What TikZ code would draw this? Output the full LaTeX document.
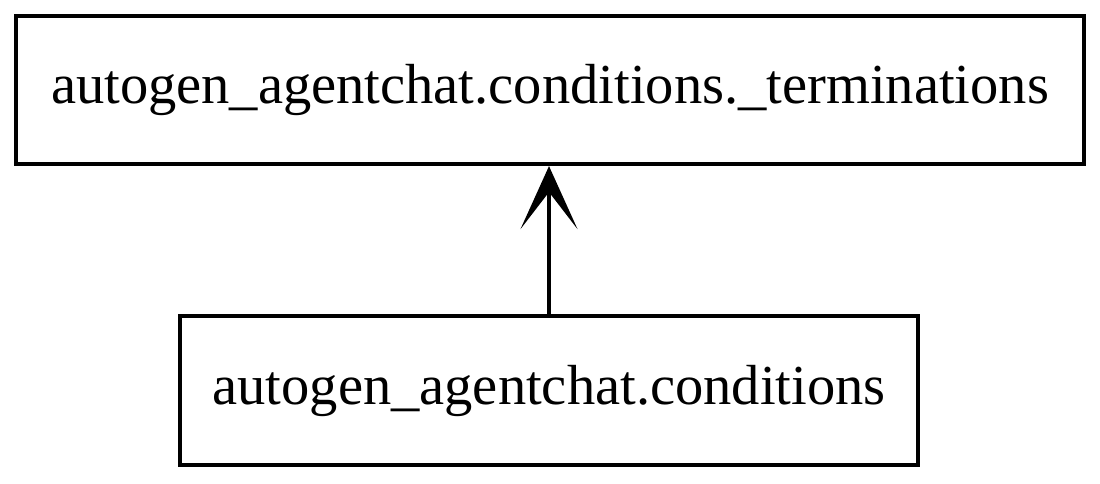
\documentclass[tikz,border=0pt]{standalone}
\usepackage{fontspec}
\setmainfont{Liberation Serif}
\usetikzlibrary{arrows.meta}
\begin{document}
\begin{tikzpicture}[x=1pt,y=1pt,
  modbox/.style={draw=black, line width=4.2pt, inner sep=0pt, fill=white,
    font=\fontsize{56.5}{60}\selectfont},
  dep/.style={line width=4pt, -{Stealth[length=63pt,width=57pt,inset=37pt]}}]
\useasboundingbox (0,0) rectangle (1100,483);
\node[modbox, minimum width=1068pt, minimum height=148pt] (t) at (550,393) {autogen\_agentchat.conditions.\_terminations};
\node[modbox, minimum width=738pt, minimum height=149pt] (b) at (549,92.5) {autogen\_agentchat.conditions};
\draw[dep] (b.north) -- (b.north |- t.south);
\end{tikzpicture}
\end{document}
